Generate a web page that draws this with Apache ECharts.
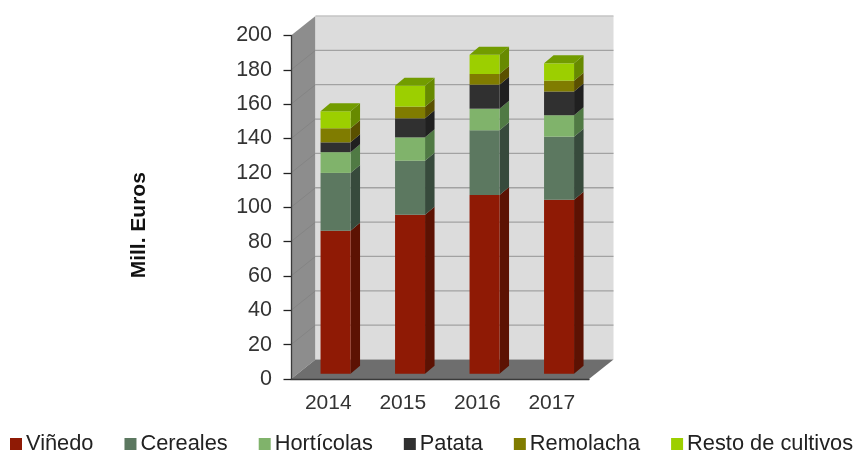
<!DOCTYPE html>
<html><head><meta charset="utf-8">
<style>html,body{margin:0;padding:0;background:#fff}#c{width:856px;height:454px}</style>
<script src="https://cdn.jsdelivr.net/npm/echarts@6/dist/echarts.min.js"></script>
</head><body><div id="c"></div>
<script>
const years = ['2014','2015','2016','2017'];
const yTicks = [0,20,40,60,80,100,120,140,160,180,200];
const vinedo = [83.3,92.6,104,101.3];
const cereales = [33.6,31.4,37.7,36.7];
const horticolas = [12.1,13.6,12.6,12.5];
const patata = [5.7,11.1,14,13.8];
const remolacha = [8.2,6.8,6.2,6.3];
const resto = [9.9,12.2,11.2,10.1];

const seriesNames = ['Viñedo','Cereales','Hortícolas','Patata','Remolacha','Resto de cultivos'];
const seriesValues = [vinedo,cereales,horticolas,patata,remolacha,resto];
const frontColors = ['#8f1a05','#5c7860','#80b36b','#303030','#807c00','#9ccf00'];
const sideColors = ['#5c1203','#374a3c','#507a44','#202020','#5a5000','#678a00'];
const topColor = '#729c00';

const chart = echarts.init(document.getElementById('c'),null,{renderer:'canvas'});
const DX=24.5, DY=-19.5;           // chart-box depth
const BAR_W=30, BAR_DX=7.3, BAR_DY=-5.3, BAR_DEPTH_X=9.5, BAR_DEPTH_Y=-8;

function poly(points,color,z2){
  return {type:'polygon',shape:{points},style:{fill:color},z2:z2||0,silent:true};
}
function renderWalls(params,api){
  const x0=params.coordSys.x, x1=x0+params.coordSys.width;
  const y0=api.coord([0,0])[1], y1=api.coord([0,200])[1];
  const ch=[
    poly([[x0,y1],[x0+DX,y1+DY],[x0+DX,y0+DY],[x0,y0]],'#8d8d8d'),
    poly([[x0+DX,y1+DY],[x1+DX,y1+DY],[x1+DX,y0+DY],[x0+DX,y0+DY]],'#dcdcdc'),
    poly([[x0,y0],[x1,y0],[x1+DX,y0+DY],[x0+DX,y0+DY]],'#6e6e6e')
  ];
  yTicks.forEach(t=>{
    if(t===0) return;
    const y=api.coord([0,t])[1];
    const col=t===200?'#c4c4c4':'#a2a2a2';
    ch.push({type:'line',shape:{x1:x0+DX,y1:y+DY,x2:x1+DX,y2:y+DY},style:{stroke:col,lineWidth:1.3},silent:true});
    if(t!==200) ch.push({type:'line',shape:{x1:x0,y1:y,x2:x0+DX,y2:y+DY},style:{stroke:'#848484',lineWidth:1},silent:true});
  });
  return {type:'group',children:ch};
}
function makeRender(idx){
  return function(params,api){
    const cat=api.value(0), lo=api.value(1), hi=api.value(2);
    const pLo=api.coord([cat,lo]), pHi=api.coord([cat,hi]);
    const xl=pLo[0]+BAR_DX-BAR_W/2, xr=xl+BAR_W;
    const yb=pLo[1]+BAR_DY, yt=pHi[1]+BAR_DY;
    const ch=[
      poly([[xr,yb],[xr+BAR_DEPTH_X,yb+BAR_DEPTH_Y],[xr+BAR_DEPTH_X,yt+BAR_DEPTH_Y],[xr,yt]],sideColors[idx]),
      poly([[xl,yb],[xr,yb],[xr,yt],[xl,yt]],frontColors[idx])
    ];
    if(idx===seriesValues.length-1){
      ch.push(poly([[xl,yt],[xr,yt],[xr+BAR_DEPTH_X,yt+BAR_DEPTH_Y],[xl+BAR_DEPTH_X,yt+BAR_DEPTH_Y]],topColor));
    }
    return {type:'group',children:ch};
  };
}
const cum=years.map(()=>0);
const barSeries=seriesNames.map((name,i)=>{
  const data=years.map((y,c)=>{const lo=cum[c];cum[c]+=seriesValues[i][c];return [c,lo,cum[c]];});
  return {type:'custom',name,data,z:3+i,silent:true,renderItem:makeRender(i),
    encode:{x:0,y:[1,2]},itemStyle:{color:frontColors[i]},clip:false};
});
const fontFamily='"Liberation Sans",Arial,sans-serif';
chart.setOption({
  animation:false,
  backgroundColor:'#fff',
  textStyle:{fontFamily},
  grid:{left:291,top:35.5,width:298,height:343.5,containLabel:false},
  legend:{
    data:seriesNames.map(name=>({name,icon:'rect'})),
    left:10,top:433,width:1000,padding:0,itemWidth:12,itemHeight:12,itemGap:31,
    textStyle:{fontSize:21.8,color:'#222',fontFamily,padding:[0,0,0,-1]},
    selectedMode:false
  },
  xAxis:{type:'category',data:years,z:5,
    axisLine:{lineStyle:{color:'#3a3a3a',width:1.3}},
    axisTick:{length:7,lineStyle:{color:'#222',width:1.3}},
    axisLabel:{fontSize:21,color:'#333',margin:14}
  },
  yAxis:{type:'value',min:0,max:200,interval:20,z:5,
    name:'Mill. Euros',nameLocation:'middle',nameGap:141,nameRotate:90,
    nameTextStyle:{fontSize:21,fontWeight:'bold',color:'#111',padding:[0,36,0,0]},
    axisLine:{show:true,lineStyle:{color:'#3a3a3a',width:1.3}},
    axisTick:{show:true,length:7.5,lineStyle:{color:'#222',width:1.3}},
    axisLabel:{fontSize:21.5,color:'#333',margin:19},
    splitLine:{show:false}
  },
  series:[{type:'custom',name:'walls',data:[[0,0,200]],z:1,silent:true,renderItem:renderWalls,encode:{x:0,y:[1,2]},clip:false}].concat(barSeries)
});
</script></body></html>
